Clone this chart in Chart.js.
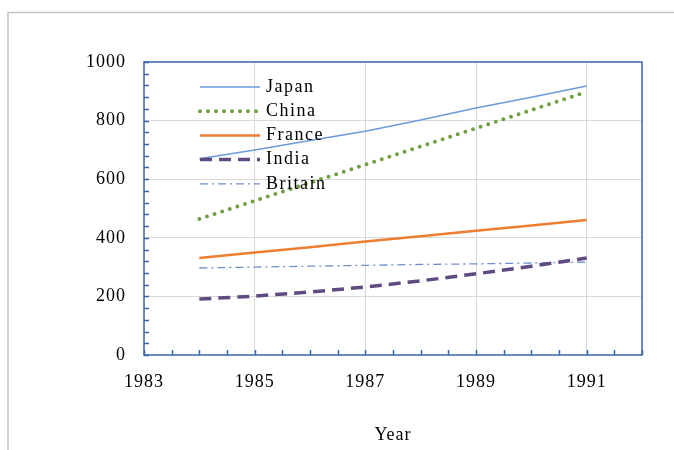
<!DOCTYPE html>
<html>
<head>
<meta charset="utf-8">
<script src="https://cdn.jsdelivr.net/npm/chart.js@4/dist/chart.umd.min.js"></script>
<style>
  html, body { margin: 0; padding: 0; background: #fff; }
  #wrap { width: 674px; height: 450px; position: relative; }
</style>
</head>
<body>
<div id="wrap"><canvas id="chart"></canvas></div>
<script>
(function () {
  "use strict";
  const YEARS = [1984, 1985, 1986, 1987, 1988, 1989, 1990, 1991];
  const JAPAN = [670, 700, 732, 764, 802, 843, 880, 918];
  const CHINA = [464, 526, 588, 650, 712, 774, 836, 898];
  const FRANCE = [331, 350, 368, 387, 405, 424, 442, 461];
  const INDIA = [191, 201, 215, 232, 253, 277, 303, 331];
  const BRITAIN = [297, 300, 303, 306, 309, 311, 314, 317];
  const X_TICKS = [1983, 1985, 1987, 1989, 1991];
  const SERIF = "'Liberation Serif', 'DejaVu Serif', serif";
  const AXIS_BLUE = "#3A64A8";

  const pts = (vals) => YEARS.map((y, i) => ({ x: y, y: vals[i] }));

  // outer frame, plot frame and inward minor/major ticks
  const framePlugin = {
    id: "frame",
    beforeDraw(chart) {
      const c = chart.ctx;
      c.letterSpacing = "1px";
      c.save();
      c.strokeStyle = "#c4c4c4";
      c.lineWidth = 1.5;
      c.beginPath();
      c.moveTo(8, 460); c.lineTo(8, 12.5); c.lineTo(680, 12.5);
      c.stroke();
      c.restore();
    },
    afterDatasetsDraw(chart) {
      const c = chart.ctx, a = chart.chartArea;
      const xs = chart.scales.x, ys = chart.scales.y;
      c.save();
      c.strokeStyle = AXIS_BLUE;
      c.lineWidth = 1.5;
      c.strokeRect(a.left, a.top, a.right - a.left, a.bottom - a.top);
      c.beginPath();
      for (let v = 0; v <= 1000; v += 40) {
        const y = Math.round(ys.getPixelForValue(v)) + 0.5;
        c.moveTo(a.left, y); c.lineTo(a.left + 5, y);
      }
      for (let v = 1983; v <= 1992; v += 0.5) {
        const x = Math.round(xs.getPixelForValue(v)) + 0.5;
        c.moveTo(x, a.bottom); c.lineTo(x, a.bottom - 5);
      }
      c.stroke();
      c.restore();
    },
  };

  // legend with line samples inside the plot
  const legendPlugin = {
    id: "lineLegend",
    afterDraw(chart) {
      const c = chart.ctx;
      const x0 = 200, x1 = 260, tx = 266, y0 = 87, dy = 24.2;
      c.save();
      c.font = "18px " + SERIF;
      c.letterSpacing = "1.5px";
      c.textBaseline = "middle";
      chart.data.datasets.forEach((ds, i) => {
        const y = y0 + i * dy;
        c.strokeStyle = ds.borderColor;
        c.lineWidth = ds.borderWidth;
        c.lineCap = ds.borderCapStyle || "butt";
        c.setLineDash(ds.borderDash || []);
        c.beginPath();
        c.moveTo(x0, y); c.lineTo(x1, y);
        c.stroke();
        c.setLineDash([]);
        c.fillStyle = "#000";
        c.fillText(ds.label, tx, y);
      });
      c.restore();
    },
  };

  new Chart(document.getElementById("chart").getContext("2d"), {
    type: "line",
    data: {
      datasets: [
        { label: "Japan", data: pts(JAPAN), borderColor: "#6A9BDA", borderWidth: 1.5 },
        { label: "China", data: pts(CHINA), borderColor: "#70A043", borderWidth: 4,
          borderDash: [0, 8], borderCapStyle: "round" },
        { label: "France", data: pts(FRANCE), borderColor: "#ED7D31", borderWidth: 2.5 },
        { label: "India", data: pts(INDIA), borderColor: "#5F4B82", borderWidth: 3.5,
          borderDash: [12, 7] },
        { label: "Britain", data: pts(BRITAIN), borderColor: "#6E8FCB", borderWidth: 1.3,
          borderDash: [8, 4, 2, 4] },
      ],
    },
    options: {
      responsive: true, maintainAspectRatio: false, animation: false,
      devicePixelRatio: 1,
      layout: { padding: { left: 0, top: 62, right: 32, bottom: 0 } },
      elements: { point: { radius: 0 }, line: { tension: 0 } },
      scales: {
        x: {
          type: "linear", min: 1983, max: 1992,
          afterBuildTicks: (axis) => { axis.ticks = X_TICKS.map((v) => ({ value: v })); },
          afterFit: (scale) => { scale.height = 95; },
          grid: { color: (ctx) => (ctx.tick && ctx.tick.value === 1983 ? "rgba(0,0,0,0)" : "#d9d9d9"),
                  drawTicks: false, lineWidth: 1 },
          border: { display: false },
          ticks: { color: "#000", font: { family: SERIF, size: 18 }, padding: 16,
                   maxRotation: 0, callback: (v) => String(v) },
          title: { display: true, text: "Year", color: "#000",
                   font: { family: SERIF, size: 18 }, padding: { top: 27 } },
        },
        y: {
          min: 0, max: 1000,
          ticks: { stepSize: 200, color: "#000", font: { family: SERIF, size: 18 }, padding: 18,
                   callback: (v) => String(v) },
          afterFit: (scale) => { scale.width = 144; },
          grid: { color: (ctx) => (ctx.tick && (ctx.tick.value === 0 || ctx.tick.value === 1000) ? "rgba(0,0,0,0)" : "#d9d9d9"),
                  drawTicks: false, lineWidth: 1 },
          border: { display: false },
        },
      },
      plugins: { legend: { display: false }, tooltip: { enabled: false } },
    },
    plugins: [framePlugin, legendPlugin],
  });
})();
</script>
</body>
</html>
